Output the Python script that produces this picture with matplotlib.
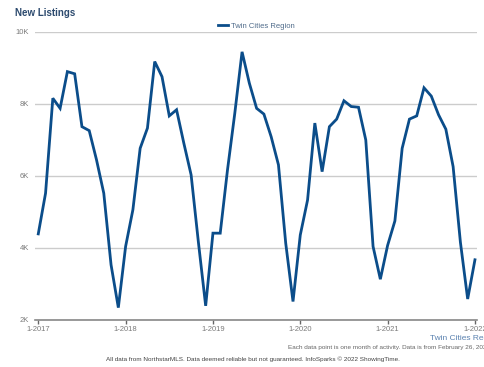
import numpy as np
import matplotlib
matplotlib.use("Agg")
import matplotlib.pyplot as plt

plt.rcParams['font.family'] = ['Liberation Sans', 'DejaVu Sans']

################################################
### Data (monthly new listings, Jan 2017 - Jan 2022)
months = ["1-2017", "2-2017", "3-2017", "4-2017", "5-2017", "6-2017", "7-2017", "8-2017",
          "9-2017", "10-2017", "11-2017", "12-2017",
          "1-2018", "2-2018", "3-2018", "4-2018", "5-2018", "6-2018", "7-2018", "8-2018",
          "9-2018", "10-2018", "11-2018", "12-2018",
          "1-2019", "2-2019", "3-2019", "4-2019", "5-2019", "6-2019", "7-2019", "8-2019",
          "9-2019", "10-2019", "11-2019", "12-2019",
          "1-2020", "2-2020", "3-2020", "4-2020", "5-2020", "6-2020", "7-2020", "8-2020",
          "9-2020", "10-2020", "11-2020", "12-2020",
          "1-2021", "2-2021", "3-2021", "4-2021", "5-2021", "6-2021", "7-2021", "8-2021",
          "9-2021", "10-2021", "11-2021", "12-2021",
          "1-2022"]
new_listings = [4380, 5510, 8150, 7870, 8890, 8830, 7360, 7250, 6440, 5510, 3520, 2330,
                4030, 5050, 6760, 7320, 9170, 8750, 7660, 7830, 6900, 6020, 4150, 2380,
                4400, 4400, 6160, 7730, 9440, 8570, 7870, 7710, 7080, 6300, 4120, 2500,
                4350, 5320, 7460, 6110, 7360, 7570, 8080, 7920, 7900, 6990, 4030, 3120,
                4060, 4740, 6760, 7570, 7660, 8440, 8210, 7690, 7290, 6250, 4150, 2570,
                3660]
year_ticks = ["1-2017", "1-2018", "1-2019", "1-2020", "1-2021", "1-2022"]
y_ticks = [2000, 4000, 6000, 8000, 10000]
y_labels = ["2K", "4K", "6K", "8K", "10K"]

################################################
line_color = "#0b4d8a"
grey_txt = "#7a7a7a"

fig = plt.figure(figsize=(4.85, 3.67), dpi=100)
ax = fig.add_axes([35/485, 1-319.5/367, (477.5-35)/485, (319.5-31.7)/367])

x = np.arange(len(new_listings))
ax.plot(x, new_listings, color=line_color, linewidth=2.0, solid_joinstyle="miter",
        label="Twin Cities Region", zorder=3)

ax.set_xlim(-0.45, 60.35)
ax.set_ylim(2000, 10000)
ax.set_yticks(y_ticks)
ax.set_yticklabels(y_labels)
ax.set_xticks([months.index(t) for t in year_ticks])
ax.set_xticklabels(year_ticks)
ax.grid(axis="y", color="#cccccc", linewidth=1.0)
ax.set_axisbelow(True)
for s in ["top", "right", "left"]:
    ax.spines[s].set_visible(False)
ax.spines["bottom"].set_color("#888888")
ax.spines["bottom"].set_linewidth(1.2)
ax.tick_params(axis="y", length=0, pad=4, labelsize=5.5, labelcolor=grey_txt)
ax.tick_params(axis="x", length=3, width=1, color="#666666", pad=2,
               labelsize=5.5, labelcolor=grey_txt)

fig.text(15/485, 1-13/367, "New Listings", fontsize=7, fontweight="bold",
         color="#2c4a6e", va="center", ha="left")
leg = ax.legend(loc="lower center", bbox_to_anchor=(0.5, 0.995), frameon=False,
                fontsize=5.5, handlelength=1.3, handletextpad=0.4, borderaxespad=0)
for t in leg.get_texts():
    t.set_color("#4f6b8a")

fig.text(430/485, 1-338/367, "Twin Cities Region", fontsize=6, color="#5b82b0",
         ha="left", va="center")
fig.text(288/485, 1-348/367, "Each data point is one month of activity. Data is from February 26, 2022.",
         fontsize=4.6, color="#666666", ha="left", va="center")
fig.text(252.5/485, 1-359/367,
         "All data from NorthstarMLS. Data deemed reliable but not guaranteed. InfoSparks \u00a9 2022 ShowingTime.",
         fontsize=4.6, color="#444444", ha="center", va="center")

fig.savefig("out.png", dpi=100)
